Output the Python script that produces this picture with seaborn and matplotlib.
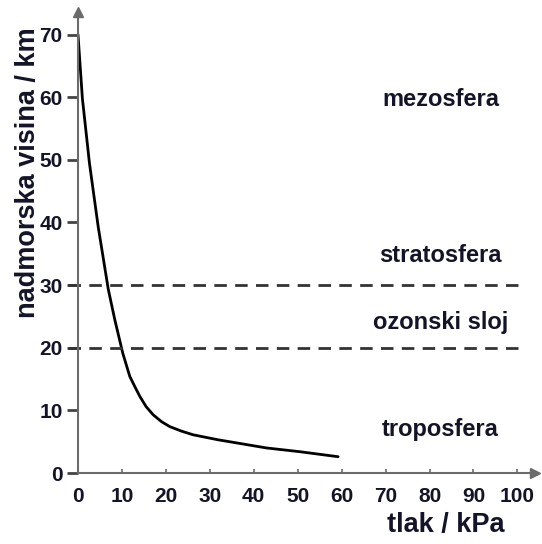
import numpy as np
import pandas as pd
import matplotlib.pyplot as plt
import seaborn as sns

# pressure (kPa) vs altitude (km)
tlak = [0.0, 1.0, 2.6, 4.6, 6.9, 8.4, 10.2, 11.8, 13.0, 14.1, 15.5, 17.1, 19.0, 20.9,
        23.5, 26.2, 31.9, 35.3, 42.9, 50.5, 59.2]
visina = [70.0, 59.8, 49.5, 39.3, 29.3, 24.4, 19.1, 15.4, 13.7, 12.2, 10.6, 9.3, 8.2,
          7.4, 6.7, 6.1, 5.3, 4.9, 4.0, 3.4, 2.6]

# layer boundaries (km)
granice = [20, 30]

# layer names and where they sit
slojevi = ["mezosfera", "stratosfera", "ozonski sloj", "troposfera"]
slojevi_x = [82.5, 82.5, 82.5, 82.5]
slojevi_y = [59.6, 34.8, 24.1, 6.9]

x_ticks = [0, 10, 20, 30, 40, 50, 60, 70, 80, 90, 100]
y_ticks = [0, 10, 20, 30, 40, 50, 60, 70]

sns.set_style("ticks")
plt.rcParams['font.family'] = ['Liberation Sans', 'DejaVu Sans']
plt.rcParams['font.weight'] = 'bold'

text_color = "#141428"
axis_color = "#6b6b6b"

df = pd.DataFrame({"tlak": tlak, "visina": visina})

fig = plt.figure(figsize=(5.42, 5.44), dpi=100)
ax = fig.add_axes([0.1439, 0.1305, 0.987 - 0.1439, 0.978 - 0.1305])

sns.lineplot(data=df, x="tlak", y="visina", ax=ax, color="black", linewidth=2, sort=False)

ax.hlines(granice, -2.3, 101, colors="#333333", linewidth=2,
          linestyles=(0, (4.5, 3)), clip_on=False)

for name, x, y in zip(slojevi, slojevi_x, slojevi_y):
    ax.text(x, y, name, ha="center", va="center", fontsize=17,
            fontweight="bold", color=text_color)

ax.set_xlim(0, 104)
ax.set_ylim(0, 73.6)
ax.set_xticks(x_ticks)
ax.set_yticks(y_ticks)
ax.tick_params(axis="x", direction="in", length=3, width=1.2, color=axis_color,
               labelsize=15, labelcolor=text_color, pad=10)
ax.tick_params(axis="y", direction="out", length=8, width=2, color="#444444",
               labelsize=15, labelcolor=text_color, pad=3)
for lab in ax.get_xticklabels() + ax.get_yticklabels():
    lab.set_fontweight("bold")

sns.despine(ax=ax)
for side in ["left", "bottom"]:
    ax.spines[side].set_color(axis_color)
    ax.spines[side].set_linewidth(1.5)

# arrow heads at the axis ends
ax.plot(1, 0, ">", color=axis_color, markersize=7, transform=ax.transAxes, clip_on=False)
ax.plot(0, 1, "^", color=axis_color, markersize=7, transform=ax.transAxes, clip_on=False)

ax.set_xlabel("tlak / kPa", fontsize=19.5, fontweight="bold", color=text_color)
ax.xaxis.set_label_coords(0.805, -0.085)
ax.set_ylabel("nadmorska visina / km", fontsize=19.5, fontweight="bold", color=text_color)
ax.yaxis.set_label_coords(-0.08, 0.652)

fig.savefig("out.png", dpi=100)
